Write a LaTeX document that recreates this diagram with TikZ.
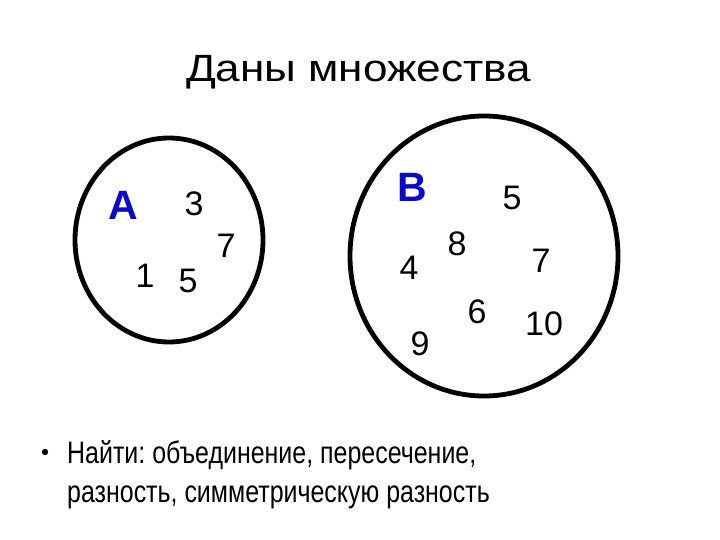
\documentclass[tikz,border=0pt]{standalone}
\usepackage{fontspec}
\setmainfont{Liberation Sans}
\newfontfamily\titlefont[FakeStretch=1.16]{Liberation Sans}
\newfontfamily\bodyfont[FakeStretch=0.805]{Liberation Sans}
\definecolor{lblblue}{RGB}{10,10,200}
\begin{document}
\frenchspacing
\begin{tikzpicture}[x=1pt,y=-1pt,
  setring/.style={draw=black,line width=4.8pt},
  elem/.style={inner sep=0pt,font=\fontsize{34}{34}\selectfont},
  setname/.style={inner sep=0pt,text=lblblue,font=\fontsize{41}{41}\selectfont\bfseries},
  body/.style={inner sep=0pt,anchor=base west,font=\fontsize{31}{31}\bodyfont}]
\useasboundingbox (0,0) rectangle (720,540);
\node[inner sep=0pt,anchor=base,font=\fontsize{38}{38}\titlefont] (title) at (358.5,82) {Даны множества};
% set A
\draw[setring] (169,240) ellipse [x radius=94, y radius=102];
\node[setname] (A) at (123,205) {A};
\node[elem] (a3) at (194,204) {3};
\node[elem] (a7) at (226,246) {7};
\node[elem] (a1) at (145,276) {1};
\node[elem] (a5) at (188,281) {5};
% set B
\draw[setring] (484,256) ellipse [x radius=134, y radius=140];
\node[setname] (B) at (412,187) {B};
\node[elem] (b5) at (512,198) {5};
\node[elem] (b8) at (457,244) {8};
\node[elem] (b4) at (409,268) {4};
\node[elem] (b7) at (541,261) {7};
\node[elem] (b6) at (477,312) {6};
\node[elem] (b10) at (544,324) {10};
\node[elem] (b9) at (420,344) {9};
% text
\fill (45,452) circle [radius=3.2];
\node[body] (l1) at (67,463) {Найти: объединение, пересечение,};
\node[body] (l2) at (67,502) {разность, симметрическую разность};
\end{tikzpicture}
\end{document}
